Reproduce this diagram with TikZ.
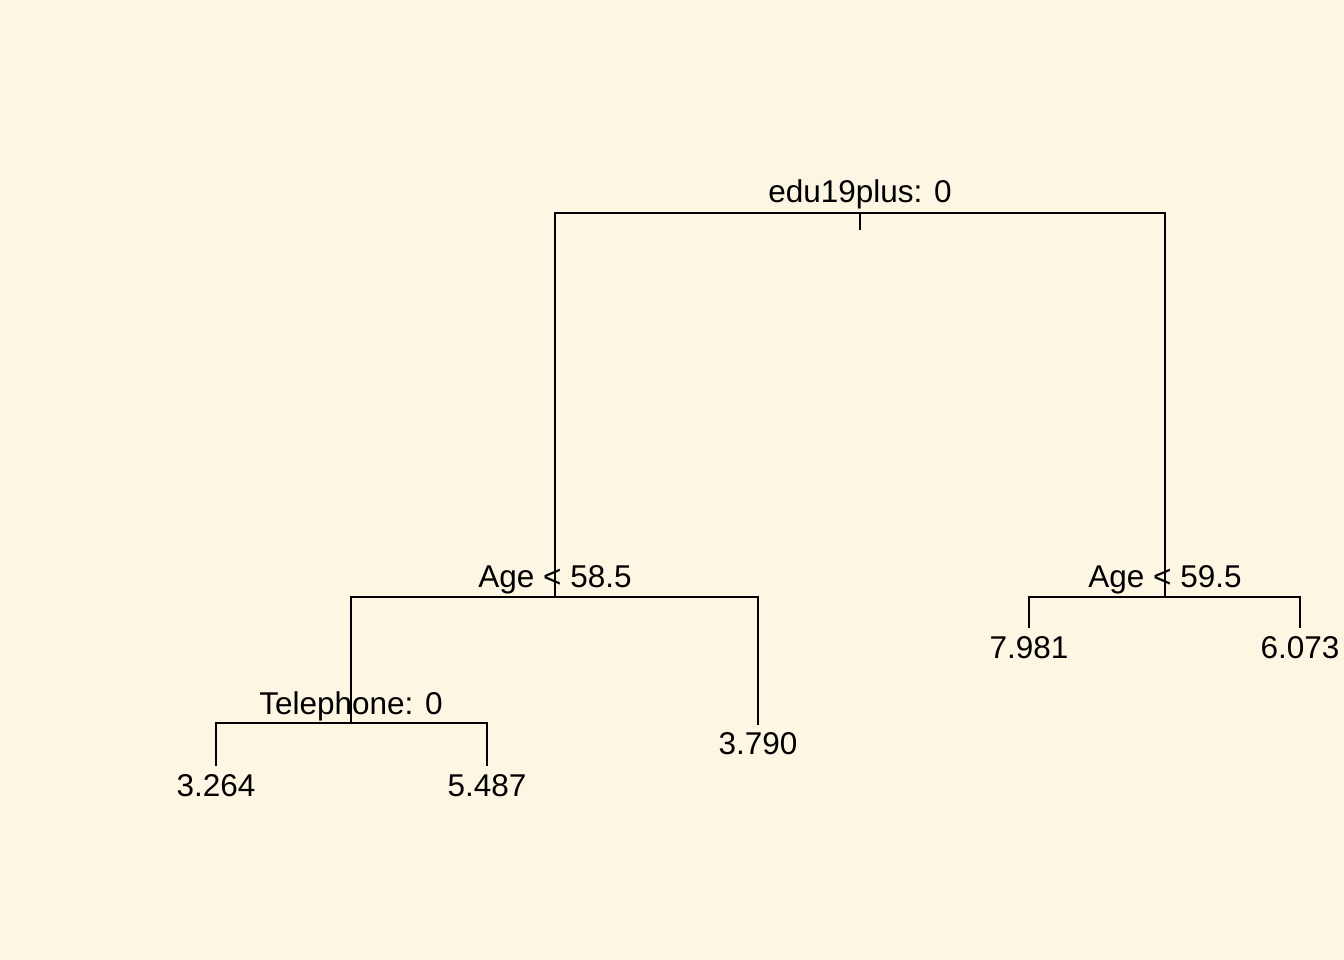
\documentclass[tikz,border=0pt]{standalone}
\usepackage{fontspec}
\setmainfont{Liberation Sans}
\usetikzlibrary{calc}
\definecolor{bg}{HTML}{FDF6E3}
\tikzset{
  edge/.style={draw=black, line width=1.8pt, line cap=rect},
  lbl/.style={anchor=base, inner sep=0pt, outer sep=0pt, font=\fontsize{31.5}{36}\selectfont, text=black}
}
\begin{document}
\begin{tikzpicture}[x=1pt, y=-1pt]
\fill[bg] (0,0) rectangle (1344,960);
\useasboundingbox (0,0) rectangle (1344,960);
% split / leaf points
\coordinate (root) at (860,213);
\coordinate (L) at (555,597);
\coordinate (R) at (1165,597);
\coordinate (LL) at (351,723);
\coordinate (LR) at (758,724);
\coordinate (LLL) at (216,765);
\coordinate (LLR) at (487,765);
\coordinate (RL) at (1029,627);
\coordinate (RR) at (1300,627);
\coordinate (tick) at (860,229);
% connectors
\draw[edge] (root) -- (tick);
\draw[edge] (L) |- (root) -| (R);
\draw[edge] (LL) |- (L) -| (LR);
\draw[edge] (LLL) |- (LL) -| (LLR);
\draw[edge] (RL) |- (R) -| (RR);
% split labels
\node[lbl] (troot) at ($(root)+(0,-10)$) {edu19plus: 0};
\node[lbl] (tL) at ($(L)+(0,-10)$) {Age < 58.5};
\node[lbl] (tR) at ($(R)+(0,-10)$) {Age < 59.5};
\node[lbl] (tLL) at ($(LL)+(0,-9)$) {Telephone: 0};
% leaf labels
\node[lbl] (tLR) at ($(LR)+(0,30)$) {3.790};
\node[lbl] (tLLL) at ($(LLL)+(0,31)$) {3.264};
\node[lbl] (tLLR) at ($(LLR)+(0,31)$) {5.487};
\node[lbl] (tRL) at ($(RL)+(0,31)$) {7.981};
\node[lbl] (tRR) at ($(RR)+(0,31)$) {6.073};
\end{tikzpicture}
\end{document}
